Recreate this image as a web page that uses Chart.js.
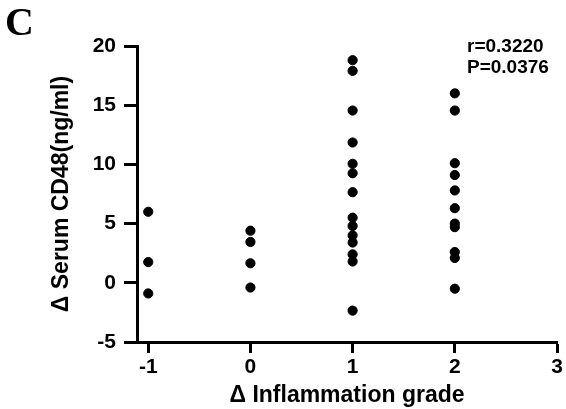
<!DOCTYPE html>
<html>
<head>
<meta charset="utf-8">
<script src="https://cdn.jsdelivr.net/npm/chart.js@4.4.0/dist/chart.umd.min.js"></script>
<style>
  html, body { margin: 0; padding: 0; background: #fff; }
  #wrap { width: 566px; height: 409px; position: relative; }
</style>
</head>
<body>
<div id="wrap"><canvas id="chart"></canvas></div>
<script>
// --- data ---
const grades = [-1, 0, 1, 2];
const gradeMinus1 = [6.0, 1.75, -0.9];
const grade0 = [4.4, 3.45, 1.65, -0.4];
const grade1 = [18.8, 17.9, 14.55, 11.85, 10.05, 9.25, 7.65, 5.5, 4.8, 4.0, 3.4, 2.4, 1.8, -2.35];
const grade2 = [16.0, 14.55, 10.1, 9.1, 7.8, 6.3, 5.0, 4.7, 2.6, 2.1, -0.5];
const xTicks = [-1, 0, 1, 2, 3];
const yTicks = [-5, 0, 5, 10, 15, 20];
const statsText = ['r=0.3220', 'P=0.0376'];

const groups = [gradeMinus1, grade0, grade1, grade2];
const points = [];
groups.forEach((vals, i) => {
  vals.forEach(v => points.push({ x: grades[i], y: v }));
});

const FONT = 'Liberation Sans, Arial, sans-serif';

// extra text: panel letter + stats
const textPlugin = {
  id: 'extraText',
  afterDraw(chart) {
    const ctx = chart.ctx;
    ctx.save();
    ctx.fillStyle = '#000';
    ctx.textBaseline = 'middle';
    ctx.textAlign = 'left';
    ctx.font = 'bold 40px "Liberation Serif", "Times New Roman", serif';
    ctx.fillText('C', 5, 25);
    ctx.font = 'bold 19px ' + FONT;
    ctx.fillText(statsText[0], 467, 47);
    ctx.fillText(statsText[1], 467, 68);
    ctx.restore();
  }
};

new Chart(document.getElementById('chart'), {
  type: 'scatter',
  data: {
    datasets: [{
      data: points,
      backgroundColor: '#000',
      borderColor: '#000',
      pointRadius: 4.6,
      pointHoverRadius: 4.6
    }]
  },
  options: {
    responsive: true,
    maintainAspectRatio: false,
    animation: false,
    layout: { padding: { top: 46, right: 9, left: 0, bottom: 0 } },
    plugins: { legend: { display: false }, tooltip: { enabled: false } },
    scales: {
      x: {
        type: 'linear',
        min: -1.11,
        max: 3,
        afterBuildTicks: s => { s.ticks = xTicks.map(v => ({ value: v })); },
        afterFit: s => { s.height = 67; },
        border: { display: true, color: '#000', width: 3 },
        grid: { drawOnChartArea: false, drawTicks: true, tickLength: 11, tickWidth: 3, tickColor: '#000' },
        ticks: { color: '#000', font: { family: FONT, size: 21, weight: 'bold' }, padding: 2, maxRotation: 0 },
        title: {
          display: true,
          text: '\u0394 Inflammation grade',
          color: '#000',
          font: { family: FONT, size: 23, weight: 'bold' },
          padding: { top: 0, bottom: 0 }
        }
      },
      y: {
        type: 'linear',
        min: -5,
        max: 20,
        afterBuildTicks: s => { s.ticks = yTicks.map(v => ({ value: v })); },
        afterFit: s => { s.width = 137; },
        border: { display: true, color: '#000', width: 3 },
        grid: { drawOnChartArea: false, drawTicks: true, tickLength: 13, tickWidth: 3, tickColor: '#000' },
        ticks: { color: '#000', font: { family: FONT, size: 21, weight: 'bold' }, padding: 8 },
        title: {
          display: true,
          text: '\u0394 Serum CD48(ng/ml)',
          color: '#000',
          font: { family: FONT, size: 23, weight: 'bold' },
          padding: { top: 48, bottom: 0 }
        }
      }
    }
  },
  plugins: [textPlugin]
});
</script>
</body>
</html>
